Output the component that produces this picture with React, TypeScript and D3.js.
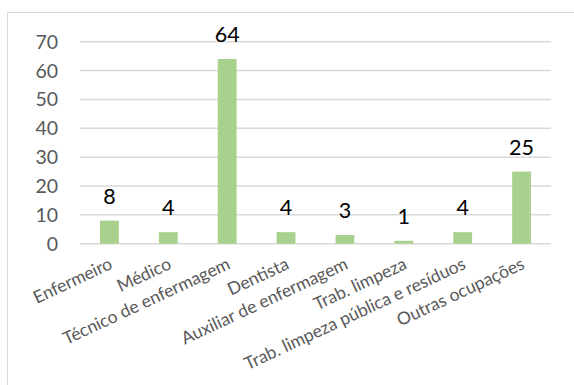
import React from "react";
import * as d3 from "d3";

const categories = [
  "Enfermeiro",
  "Médico",
  "Técnico de enfermagem",
  "Dentista",
  "Auxiliar de enfermagem",
  "Trab. limpeza",
  "Trab. limpeza pública e resíduos",
  "Outras ocupações",
];
const values = [8, 4, 64, 4, 3, 1, 4, 25];
const yTicks = [0, 10, 20, 30, 40, 50, 60, 70];

const W = 574;
const H = 385;
const FONT = "Lato, 'Open Sans', sans-serif";

export default function App() {
  const x = d3.scaleBand<string>().domain(categories).range([80, 551]).paddingInner(0.68).paddingOuter(0.34);
  const y = d3.scaleLinear().domain([0, 70]).range([243.7, 41.7]);
  const band = (551 - 80) / categories.length;
  return (
    <svg width={W} height={H} style={{ position: "absolute", left: 0, top: 0 }}>
      <rect x={0} y={0} width={W} height={H} fill="#fff" />
      <rect x={7.5} y={12.5} width={600} height={420} fill="none" stroke="#d9d9d9" strokeWidth={1} />
      {yTicks.map((t) => (
        <g key={t}>
          <line x1={80} x2={551} y1={y(t)} y2={y(t)} stroke="#d9d9d9" strokeWidth={1.5} />
          <text x={58} y={y(t)} dy="0.36em" textAnchor="end" fontFamily={FONT} fontSize={19.5} fill="#595959">
            {t}
          </text>
        </g>
      ))}
      {categories.map((c, i) => (
        <g key={c}>
          <rect x={x(c)} y={y(values[i])} width={x.bandwidth()} height={y(0) - y(values[i])} fill="#a9d18e" />
          <text x={x(c)! + x.bandwidth() / 2} y={y(values[i]) - 17} textAnchor="middle" fontFamily={FONT} fontSize={21.5} fill="#000">
            {values[i]}
          </text>
          <text
            transform={`translate(${80 + band * (i + 0.5) - 1},${257}) rotate(-25)`}
            textAnchor="end"
            dy="0.7em"
            fontFamily={FONT}
            fontSize={17.5}
            fill="#595959"
          >
            {c}
          </text>
        </g>
      ))}
    </svg>
  );
}
